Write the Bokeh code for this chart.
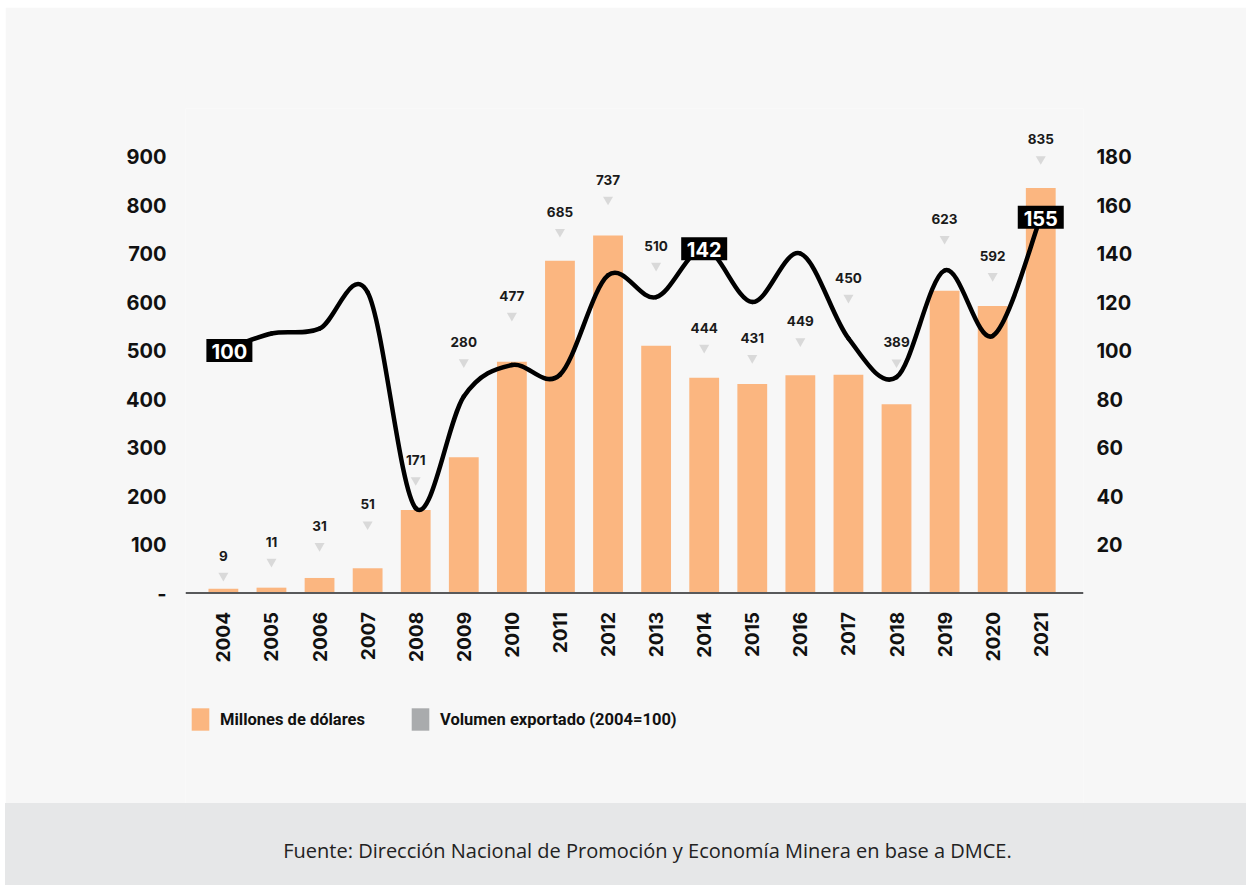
import numpy as np
from bokeh.plotting import figure
from bokeh.models import (Range1d, LinearAxis, FixedTicker, Legend, LegendItem,
                          ColumnDataSource, Div, Span)
from bokeh.layouts import column
from bokeh.core.properties import value
from bokeh.embed import file_html
from bokeh.resources import INLINE

# ---------------- data ----------------
years = [2004, 2005, 2006, 2007, 2008, 2009, 2010, 2011, 2012,
         2013, 2014, 2015, 2016, 2017, 2018, 2019, 2020, 2021]
millones_usd = [9, 11, 31, 51, 171, 280, 477, 685, 737,
                510, 444, 431, 449, 450, 389, 623, 592, 835]
volumen_idx = [100, 107, 109, 124, 35, 81, 94, 90, 131,
               122, 142, 120, 140, 105, 89, 133, 106, 155]
boxed_years = [2004, 2014, 2021]
left_ticks = [0, 100, 200, 300, 400, 500, 600, 700, 800, 900]
right_ticks = [20, 40, 60, 80, 100, 120, 140, 160, 180]

# layout helpers (pixel lift of each value marker above its bar,
# horizontal nudge of the boxed labels)
marker_lift_px = [13, 26, 32, 44, 30, 95, 46, 29, 36, 80, 30, 26, 34, 77, 42, 52, 30, 29]
box_nudge_px = [6, 0, 0]

BAR = "#fbb680"
BG = "#f7f7f7"
FONT = value("Inter")

n = len(years)
xi = list(range(n))

FIG_H = 796
TOP = 101          # frame top (px from figure top)
ZERO = 585.5       # y=0 position (px from figure top)
PX = 0.485         # px per million USD
YMAX = (ZERO - TOP) / PX
YMIN = -(FIG_H - ZERO) / PX
X0, X1 = -0.788, 17.889
PXX = 898 / (X1 - X0)

p = figure(width=1241, height=FIG_H,
           x_range=Range1d(X0, X1), y_range=Range1d(YMIN, YMAX),
           output_backend="svg", toolbar_location=None,
           x_axis_location=None,
           min_border_left=180, min_border_right=163,
           min_border_top=TOP, min_border_bottom=0,
           background_fill_color=BG, border_fill_color=BG,
           outline_line_color=None)
p.extra_y_ranges = {"right": Range1d(YMIN / 5, YMAX / 5)}
p.grid.visible = False

# bars
src = ColumnDataSource(dict(x=xi, v=millones_usd))
bars = p.vbar(x="x", top="v", width=0.62, bottom=0, source=src,
              fill_color=BAR, line_color=None)

# x axis line and year labels
p.add_layout(Span(location=0, dimension="width", line_color="#58595b", line_width=2))
p.text(x=xi, y=[0] * n, text=[str(y) for y in years], angle=np.pi / 2,
       text_align="right", text_baseline="middle", y_offset=19,
       text_font=FONT, text_font_style="bold", text_font_size="19px",
       text_color="#111111")

# value markers + labels
mk_y = [v + l / PX for v, l in zip(millones_usd, marker_lift_px)]
msrc = ColumnDataSource(dict(x=xi, y=mk_y, t=[str(v) for v in millones_usd]))
p.scatter(x="x", y="y", source=msrc, marker="inverted_triangle", size=10,
          fill_color="#d9d9d9", line_color=None)
p.text(x="x", y="y", text="t", source=msrc, y_offset=-20,
       text_align="center", text_baseline="middle",
       text_font=FONT, text_font_style="bold", text_font_size="13.5px",
       text_color="#1a1a1a")

# smooth volume line (Catmull-Rom drawn as bezier segments)
x0, y0, x1, y1, cx0, cy0, cx1, cy1 = [], [], [], [], [], [], [], []
for i in range(n - 1):
    a = max(i - 1, 0)
    d = min(i + 2, n - 1)
    x0.append(xi[i]); y0.append(volumen_idx[i])
    x1.append(xi[i + 1]); y1.append(volumen_idx[i + 1])
    cx0.append(xi[i] + (xi[i + 1] - xi[a]) / 6)
    cy0.append(volumen_idx[i] + (volumen_idx[i + 1] - volumen_idx[a]) / 6)
    cx1.append(xi[i + 1] - (xi[d] - xi[i]) / 6)
    cy1.append(volumen_idx[i + 1] - (volumen_idx[d] - volumen_idx[i]) / 6)
p.bezier(x0=x0, y0=y0, x1=x1, y1=y1, cx0=cx0, cy0=cy0, cx1=cx1, cy1=cy1,
         line_color="black", line_width=4.5, line_cap="round",
         y_range_name="right")

# boxed volume labels
bidx = [years.index(y) for y in boxed_years]
bsrc = ColumnDataSource(dict(x=[i + d / PXX for i, d in zip(bidx, box_nudge_px)],
                             y=[volumen_idx[i] for i in bidx],
                             t=[str(volumen_idx[i]) for i in bidx]))
p.rect(x="x", y="y", width=46, height=23, width_units="screen",
       height_units="screen", source=bsrc, fill_color="black",
       line_color=None, y_range_name="right")
p.text(x="x", y="y", text="t", source=bsrc, y_range_name="right",
       text_align="center", text_baseline="middle", y_offset=1,
       text_font=FONT, text_font_style="bold", text_font_size="20px",
       text_color="white")

# axes
def style_axis(ax, size="20px"):
    ax.axis_line_color = None
    ax.major_tick_line_color = None
    ax.minor_tick_line_color = None
    ax.major_tick_out = 0
    ax.major_tick_in = 0
    ax.minor_tick_out = 0
    ax.major_label_text_font = "Inter"
    ax.major_label_text_font_style = "bold"
    ax.major_label_text_font_size = size
    ax.major_label_text_color = "#111111"

ly = p.yaxis[0]
style_axis(ly)
ly.ticker = FixedTicker(ticks=left_ticks)
ly.major_label_overrides = {0: "-"}
ly.major_label_standoff = 19

ry = LinearAxis(y_range_name="right", ticker=FixedTicker(ticks=right_ticks))
style_axis(ry)
ry.major_label_standoff = 13
p.add_layout(ry, "right")

# legend (inside the extended frame)
dummy = p.vbar(x=[0], top=[0], bottom=[0], width=0.001,
               fill_color="#a9abad", line_color=None)
for rend, lab, loc in [(bars, "Millones de dólares", (4, 70)),
                       (dummy, "Volumen exportado (2004=100)", (224, 70))]:
    lg = Legend(items=[LegendItem(label=lab, renderers=[rend])],
                location=loc, orientation="horizontal",
                glyph_width=22, glyph_height=28, label_standoff=9,
                padding=0, margin=0, border_line_color=None,
                background_fill_alpha=0, label_height=28,
                label_text_font="Roboto",
                label_text_font_style="bold", label_text_font_size="16.5px",
                label_text_color="#111111")
    p.add_layout(lg)

footer = Div(text='<div style="width:1241px;box-sizing:border-box;padding-top:34px;'
                  'padding-left:44px;text-align:center;'
                  'font-family:\'Open Sans\';font-size:20px;color:#222;">'
                  'Fuente: Dirección Nacional de Promoción y Economía Minera en base a DMCE.</div>',
             width=1241, height=82, margin=0,
             styles={"background-color": "#e6e7e8"})

layout = column(p, footer, margin=(7, 0, 0, 5), spacing=0)

open("out.html", "w").write(file_html(layout, INLINE))
